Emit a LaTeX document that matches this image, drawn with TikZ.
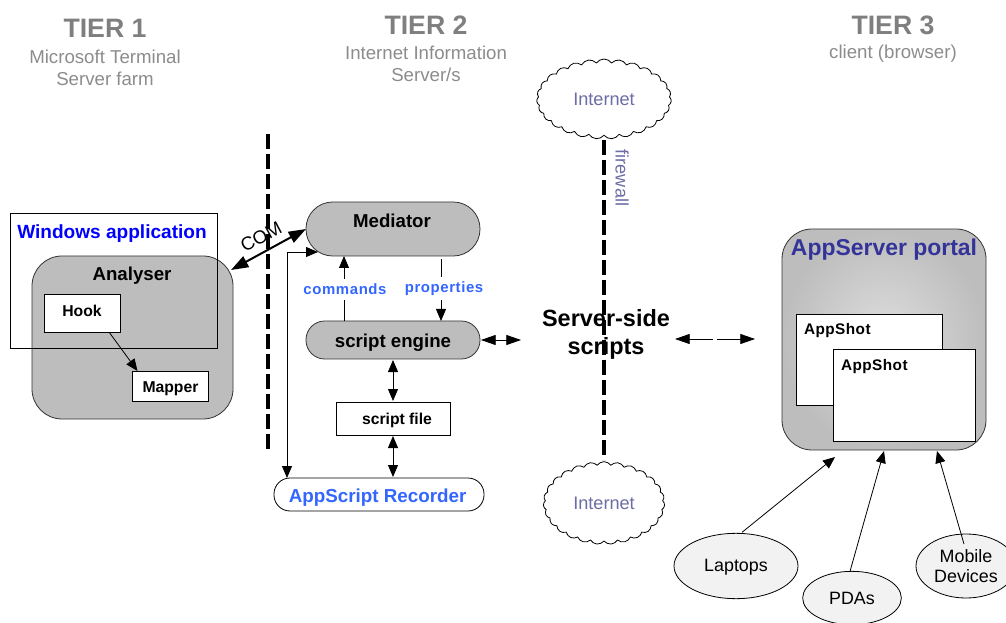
\documentclass[tikz,border=0pt]{standalone}
\usepackage{fontspec}
\setmainfont{Liberation Sans}
\setsansfont{Liberation Sans}
\usetikzlibrary{arrows.meta,shapes.geometric,shapes.symbols}
\definecolor{boxgrey}{HTML}{BDBDBD}
\definecolor{tiergrey}{HTML}{7F7F7F}
\definecolor{subgrey}{HTML}{8C8C8C}
\definecolor{netcol}{HTML}{6C6CA6}
\definecolor{linkblue}{HTML}{3366FF}
\definecolor{portalcol}{HTML}{333399}
\newcommand{\lowertext}[2]{\raisebox{-#1}[\height][\depth]{#2}}
\tikzset{
  x=0.75pt,y=-0.75pt,
  every node/.style={inner sep=0pt,outer sep=0pt,align=center},
  sq/.style={draw=black,line width=0.6pt,rectangle,fill=white},
  grey/.style={draw=black!80,line width=0.6pt,rectangle,fill=boxgrey},
  conn/.style={draw=black,line width=0.6pt},
  tipA/.style={-{Triangle[length=9pt,width=7.5pt]}},
  tipAB/.style={{Triangle[length=9pt,width=7.5pt]}-{Triangle[length=9pt,width=7.5pt]}},
  fwall/.style={draw=black,line width=2.4pt,dash pattern=on 11pt off 4pt},
  tiert/.style={text=tiergrey,font=\bfseries\fontsize{20}{22}\selectfont},
  subt/.style={text=subgrey,font=\fontsize{14}{16.8}\selectfont},
  net/.style={cloud,cloud puffs=27,cloud puff arc=110,aspect=1.7,draw=black,line width=0.6pt,fill=white,text=netcol,font=\fontsize{13.6}{15}\selectfont},
  small/.style={font=\bfseries\fontsize{11.8}{13}\selectfont},
  mid/.style={font=\bfseries\fontsize{14}{16}\selectfont},
  dev/.style={ellipse,draw=black,line width=0.6pt,fill=black!5,font=\fontsize{13.4}{15.5}\selectfont},
}
\begin{document}
\begin{tikzpicture}
\clip (0,0) rectangle (1006,623);
% Titles
\node[tiert] (t1) at (105,28) {TIER 1};
\node[subt] (t1s) at (105,68) {Microsoft Terminal\\Server farm};
\node[tiert] (t2) at (426,25) {TIER 2};
\node[subt] (t2s) at (426,64) {Internet Information\\Server/s};
\node[tiert] (t3) at (893,25) {TIER 3};
\node[subt] (t3s) at (893,54) {client (browser)};
% Tier 1
\node[grey,rounded corners=22.5pt,minimum width=150.75pt,minimum height=122.25pt] (analyser) at (132.5,337.5) {};
\node[draw=black,line width=0.6pt,minimum width=155.25pt,minimum height=101.25pt] (win) at (113.5,280.5) {};
\node[mid,text=black] (antext) at (132,276) {Analyser};
\node[font=\bfseries\fontsize{14.3}{16}\selectfont,text=blue] (wintext) at (112,234) {Windows application};
\node[sq,minimum width=57pt,minimum height=28.5pt,small] (hook) at (82,313) {\raisebox{1.5pt}[\height][\depth]{Hook}};
\node[sq,minimum width=57pt,minimum height=22.5pt,small] (mapper) at (170.5,386) {\lowertext{2.2pt}{Mapper}};
\draw[conn,tipA] ([shift={(27,0)}]hook.south) -- ([shift={(-33,0)}]mapper.north);
% Tier 2
\node[grey,rounded corners=20pt,minimum width=130.5pt,minimum height=40.5pt] (mediator) at (393,229) {};
\node[mid] (medtext) at (392,221) {Mediator};
\node[grey,rounded corners=14pt,minimum width=130.5pt,minimum height=28.5pt,mid] (engine) at (393,340) {\lowertext{2.2pt}{script engine}};
\node[sq,minimum width=85.5pt,minimum height=24.75pt,small] (file) at (393,418.5) {\lowertext{1.2pt}{\hspace*{6pt}script file}};
\node[draw=black,line width=0.6pt,fill=white,rounded corners=12pt,minimum width=157.5pt,minimum height=24.75pt,text=linkblue,font=\bfseries\fontsize{14.1}{16}\selectfont] (rec) at (379,494.5) {\lowertext{2pt}{\hspace*{-2pt}AppScript Recorder}};
\node[text=linkblue,font=\bfseries\fontsize{11.2}{13}\selectfont] (cmd) at (345,289) {\addfontfeature{LetterSpace=4}commands};
\node[text=linkblue,font=\bfseries\fontsize{11.2}{13}\selectfont] (prop) at (444,289) {\addfontfeature{LetterSpace=4}properties};
\coordinate (cmdlow) at (344,300);
\coordinate (cmdhigh) at (344,279);
\coordinate (proplow) at (441,277);
\coordinate (prophigh) at (441,300);
\draw[conn] ([shift={(-49,0)}]engine.north) -- (cmdlow);
\draw[conn,tipA] (cmdhigh) -- ([shift={(-49,0)}]mediator.south);
\draw[conn] ([shift={(48,3)}]mediator.south) -- (proplow);
\draw[conn,tipA] (prophigh) -- ([shift={(48,0)}]engine.north);
\draw[conn,tipAB] ([shift={(0,1)}]engine.south) -- ([shift={(0,-1)}]file.north);
\draw[conn,tipAB] ([shift={(0,1)}]file.south) -- ([shift={(14,-1)}]rec.north);
\coordinate (bend) at (287,252);
\draw[conn,tipAB] ([shift={(-92,0)}]rec.north) -- (bend) -- (318,252);
\draw[draw=black,line width=1.5pt,{Triangle[length=13pt,width=9pt]}-{Triangle[length=13pt,width=9pt]}] ([shift={(-2,14)}]analyser.north east) -- (mediator.west);
\node[font=\fontsize{14}{16}\selectfont,rotate=28] (com) at (261,237) {COM};
% Firewalls and clouds
\draw[fwall] (268,134) -- (268,452);
\draw[fwall] (604,140) -- (604,460);
\node[net,minimum width=101pt,minimum height=60pt] (net1) at (604,99) {Internet};
\node[net,minimum width=91pt,minimum height=62pt] (net2) at (604,503) {Internet};
\node[text=netcol,font=\fontsize{13.6}{15}\selectfont,rotate=-90] (fw) at (622,178) {firewall};
\node[font=\bfseries\fontsize{17.6}{21}\selectfont] (ss) at (606,334) {Server-side\\scripts};
\draw[conn,{Triangle[length=11pt,width=7.5pt]}-{Triangle[length=11pt,width=7.5pt]}] ([shift={(1,0)}]engine.east) -- (521,340);
\coordinate (g1) at (713,339);
\coordinate (g2) at (717,339);
\draw[conn,{Triangle[length=11pt,width=7.5pt]}-] (675,339) -- (g1);
\draw[conn,-{Triangle[length=11pt,width=7.5pt]}] (g2) -- (755,339);
% Tier 3
\node[draw=black!80,line width=0.6pt,rounded corners=22.5pt,minimum width=153pt,minimum height=165.75pt,inner color=black!13,outer color=boxgrey] (portal) at (884,339.5) {};
\node[text=portalcol,font=\bfseries\fontsize{17.2}{19}\selectfont] (ptext) at (884,250) {AppServer portal};
\node[sq,minimum width=109.5pt,minimum height=68.25pt] (a1) at (869,359.5) {};
\node[anchor=west,font=\bfseries\fontsize{11.5}{13}\selectfont] (a1t) at (804,331) {\addfontfeature{LetterSpace=3}AppShot};
\node[sq,minimum width=106.5pt,minimum height=69pt] (a2) at (904,395) {};
\node[anchor=west,font=\bfseries\fontsize{11.5}{13}\selectfont] (a2t) at (841,367) {\addfontfeature{LetterSpace=3}AppShot};
\node[dev,minimum width=93pt,minimum height=49pt] (lap) at (736,566) {\lowertext{1.2pt}{Laptops}};
\node[dev,minimum width=74pt,minimum height=40pt] (pda) at (852,598) {PDAs};
\node[dev,minimum width=75pt,minimum height=48pt] (mob) at (966,566) {Mobile\\Devices};
\draw[conn,tipA] ([shift={(6,-1)}]lap.north) -- ([shift={(-49,7)}]portal.south);
\draw[conn,tipA] ([shift={(-2,0)}]pda.north) -- ([shift={(0,1)}]portal.south);
\draw[conn,tipA] ([shift={(-2,10)}]mob.north) -- ([shift={(53,1)}]portal.south);
\end{tikzpicture}
\end{document}
